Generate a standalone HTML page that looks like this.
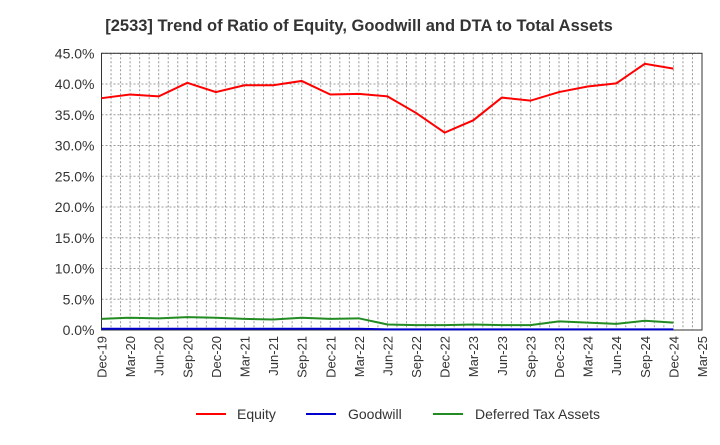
<!DOCTYPE html>
<html><head><meta charset="utf-8"><style>
body{margin:0;background:#fff;font-family:"Liberation Sans",Arial,sans-serif}
svg text{font-family:"Liberation Sans",Arial,sans-serif}
</style></head><body>
<svg id="c" width="720" height="440">
<text x="359" y="31" text-anchor="middle" font-size="16.5" font-weight="bold" fill="#333">[2533]  Trend of Ratio of Equity, Goodwill and DTA to Total Assets</text>
<g id="grid"></g><g id="axes"></g><g id="series"></g>
<g>
<line x1="196" y1="414" x2="226" y2="414" stroke="#f00" stroke-width="2"/>
<text x="237" y="419" font-size="14" fill="#333">Equity</text>
<line x1="306" y1="414" x2="336" y2="414" stroke="#00c" stroke-width="2"/>
<text x="348" y="419" font-size="14" fill="#333">Goodwill</text>
<line x1="433" y1="414" x2="463" y2="414" stroke="#228b22" stroke-width="2"/>
<text x="475" y="419" font-size="14" fill="#333">Deferred Tax Assets</text>
</g>
</svg>
<script>
const categories=["Dec-19","Mar-20","Jun-20","Sep-20","Dec-20","Mar-21","Jun-21","Sep-21","Dec-21","Mar-22","Jun-22","Sep-22","Dec-22","Mar-23","Jun-23","Sep-23","Dec-23","Mar-24","Jun-24","Sep-24","Dec-24","Mar-25"];
const equity=[37.7,38.3,38.0,40.2,38.7,39.8,39.8,40.5,38.3,38.4,38.0,35.3,32.1,34.1,37.8,37.3,38.7,39.6,40.1,43.3,42.5];
const goodwill=[0.2,0.2,0.2,0.2,0.2,0.2,0.2,0.2,0.2,0.2,0.1,0.1,0.1,0.1,0.1,0.1,0.1,0.1,0.1,0.1,0.1];
const dta=[1.8,2.0,1.9,2.1,2.0,1.8,1.7,2.0,1.8,1.9,0.9,0.8,0.8,0.9,0.8,0.8,1.4,1.2,1.0,1.5,1.2];
const yTicks=[0,5,10,15,20,25,30,35,40,45];
const L=101.5,R=702,T=53.3,B=330,NS="http://www.w3.org/2000/svg";
const xs=i=>L+(R-L)*i/(categories.length-1);
const ys=v=>B-(B-T)*v/45;
function mk(p,tag,a){const e=document.createElementNS(NS,tag);for(const k in a)e.setAttribute(k,a[k]);document.getElementById(p).appendChild(e);return e;}
const nm=categories.length-1;
for(let m=1;m<nm*3;m++){const x=L+(R-L)*m/(nm*3);
const e=mk('grid','line',{x1:x,x2:x,y1:T,y2:B,stroke:'#999','stroke-dasharray':'2,2','stroke-width':1});

}
yTicks.forEach(v=>{const y=ys(v);
if(v>0){const g=mk('grid','line',{x1:L,x2:R,y1:y,y2:y,stroke:'#999','stroke-dasharray':'2,2'});

}
const t=mk('axes','text',{x:L-7,y:y+5,'text-anchor':'end','font-size':14,fill:'#333'});t.textContent=v.toFixed(1)+'%';

});
const fr=mk('axes','rect',{x:L,y:T,width:R-L,height:B-T,fill:'none',stroke:'#333'});


categories.forEach((c,i)=>{const x=xs(i);
const t=mk('axes','text',{x:x+5,y:B+6,'text-anchor':'end','font-size':13,fill:'#333',transform:`rotate(-90 ${x+5} ${B+6})`});t.textContent=c;

});
[[goodwill,'#00c','goodwill-line'],[dta,'#228b22','dta-line'],[equity,'#f00','equity-line']].forEach(([d,col,n])=>{
const p=mk('series','polyline',{points:d.map((v,i)=>xs(i)+','+ys(v)).join(' '),fill:'none',stroke:col,'stroke-width':2});

});
</script>
</body></html>
